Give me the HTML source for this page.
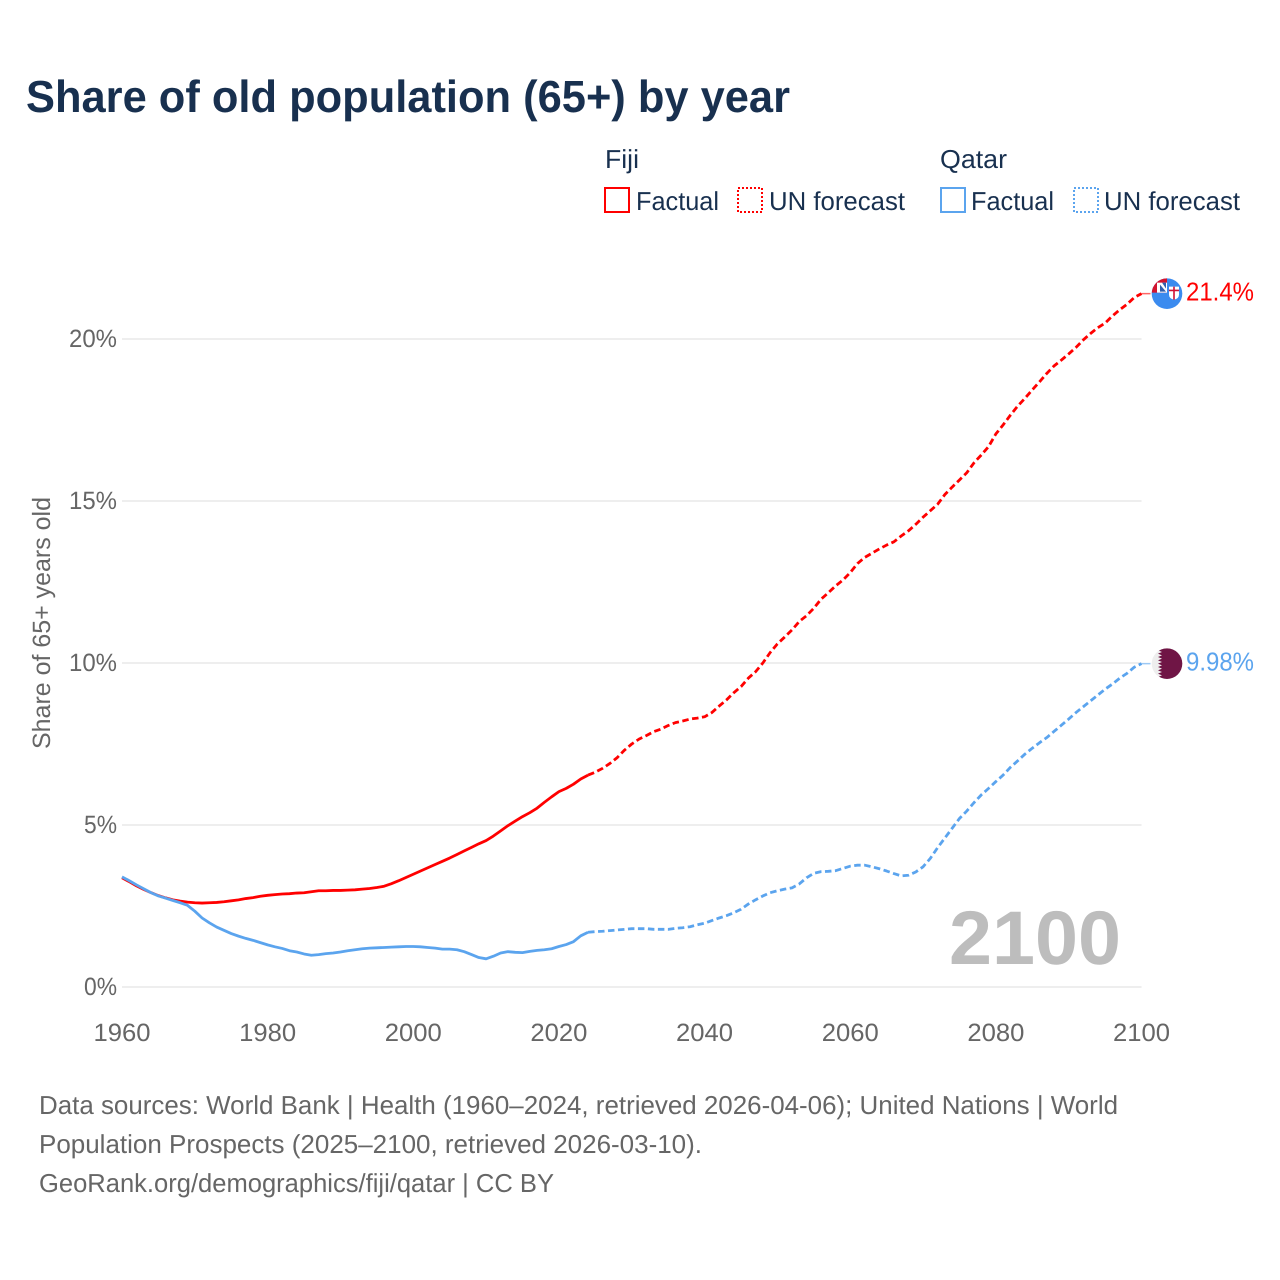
<!DOCTYPE html>
<html lang="en">
<head>
<meta charset="utf-8">
<title>Share of old population (65+) by year</title>
<style>
html,body{margin:0;padding:0;background:#fff;}
svg{display:block;font-family:"Liberation Sans",sans-serif;}
</style>
</head>
<body>
<svg id="chart" width="1280" height="1280" viewBox="0 0 1280 1280" xmlns="http://www.w3.org/2000/svg" text-rendering="geometricPrecision">
  <defs>
    <clipPath id="marker-clip"><circle cx="0" cy="0" r="15.3"></circle></clipPath>
  </defs>
  <rect x="0" y="0" width="1280" height="1280" fill="#ffffff"></rect>
  <text x="26" y="112" font-size="45" font-weight="700" fill="#18304f" textLength="764" lengthAdjust="spacingAndGlyphs">Share of old population (65+) by year</text>

  <g font-size="26" fill="#18304f">
    <text x="605" y="168" textLength="34" lengthAdjust="spacingAndGlyphs">Fiji</text>
    <rect x="605" y="188" width="24" height="24" fill="none" stroke="#ff0000" stroke-width="2"></rect>
    <text x="636" y="210" textLength="83" lengthAdjust="spacingAndGlyphs">Factual</text>
    <rect x="738" y="188" width="24" height="24" fill="none" stroke="#ff0000" stroke-width="2" stroke-dasharray="2 2"></rect>
    <text x="769" y="210" textLength="136" lengthAdjust="spacingAndGlyphs">UN forecast</text>
    <text x="940" y="168" textLength="67" lengthAdjust="spacingAndGlyphs">Qatar</text>
    <rect x="941" y="188" width="24" height="24" fill="none" stroke="#5ba4ee" stroke-width="2"></rect>
    <text x="971" y="210" textLength="83" lengthAdjust="spacingAndGlyphs">Factual</text>
    <rect x="1074" y="188" width="24" height="24" fill="none" stroke="#5ba4ee" stroke-width="2" stroke-dasharray="2 2"></rect>
    <text x="1104" y="210" textLength="136" lengthAdjust="spacingAndGlyphs">UN forecast</text>
  </g>

  <text transform="translate(50,623) rotate(-90)" text-anchor="middle" font-size="25" fill="#666666" textLength="252" lengthAdjust="spacingAndGlyphs">Share of 65+ years old</text>

  <g id="grid"></g>
  <g id="y-ticks"></g>
  <g id="x-ticks"></g>

  <text x="949" y="964" font-size="76" font-weight="700" fill="#bdbdbd" textLength="172" lengthAdjust="spacingAndGlyphs">2100</text>

  <g id="series"></g>
  <g id="markers"></g>

  <g font-size="26" fill="#666666">
    <text x="39" y="1114" textLength="1079" lengthAdjust="spacingAndGlyphs">Data sources: World Bank | Health (1960–2024, retrieved 2026-04-06); United Nations | World</text>
    <text x="39" y="1153" textLength="663" lengthAdjust="spacingAndGlyphs">Population Prospects (2025–2100, retrieved 2026-03-10).</text>
    <text x="39" y="1192" textLength="515" lengthAdjust="spacingAndGlyphs">GeoRank.org/demographics/fiji/qatar | CC BY</text>
  </g>
</svg>
<script>
const yTicks = [0, 5, 10, 15, 20];
const xTicks = [1960, 1980, 2000, 2020, 2040, 2060, 2080, 2100];
const factualYears = [1960,1961,1962,1963,1964,1965,1966,1967,1968,1969,1970,1971,1972,1973,1974,1975,1976,1977,1978,1979,1980,1981,1982,1983,1984,1985,1986,1987,1988,1989,1990,1991,1992,1993,1994,1995,1996,1997,1998,1999,2000,2001,2002,2003,2004,2005,2006,2007,2008,2009,2010,2011,2012,2013,2014,2015,2016,2017,2018,2019,2020,2021,2022,2023,2024];
const forecastYears = [2024,2025,2026,2027,2028,2029,2030,2031,2032,2033,2034,2035,2036,2037,2038,2039,2040,2041,2042,2043,2044,2045,2046,2047,2048,2049,2050,2051,2052,2053,2054,2055,2056,2057,2058,2059,2060,2061,2062,2063,2064,2065,2066,2067,2068,2069,2070,2071,2072,2073,2074,2075,2076,2077,2078,2079,2080,2081,2082,2083,2084,2085,2086,2087,2088,2089,2090,2091,2092,2093,2094,2095,2096,2097,2098,2099,2100];
const fijiFactual = [3.37,3.25,3.12,3.01,2.91,2.82,2.75,2.69,2.65,2.62,2.60,2.59,2.60,2.61,2.63,2.66,2.69,2.73,2.76,2.80,2.83,2.85,2.87,2.88,2.90,2.91,2.94,2.97,2.97,2.98,2.98,2.99,3.00,3.02,3.04,3.07,3.11,3.19,3.28,3.38,3.48,3.58,3.68,3.78,3.88,3.98,4.09,4.20,4.31,4.42,4.52,4.66,4.82,4.98,5.12,5.26,5.38,5.52,5.70,5.87,6.03,6.13,6.26,6.42,6.54];
const fijiForecast = [6.54,6.63,6.75,6.90,7.08,7.31,7.50,7.65,7.76,7.88,7.96,8.07,8.16,8.21,8.27,8.30,8.34,8.47,8.67,8.86,9.08,9.27,9.53,9.73,10.0,10.32,10.59,10.8,11.02,11.28,11.46,11.69,11.97,12.17,12.38,12.56,12.79,13.07,13.26,13.39,13.52,13.64,13.74,13.92,14.08,14.28,14.5,14.7,14.9,15.2,15.43,15.65,15.87,16.18,16.42,16.68,17.07,17.35,17.65,17.93,18.17,18.43,18.68,18.94,19.17,19.35,19.54,19.74,19.97,20.17,20.35,20.49,20.71,20.9,21.07,21.28,21.4];
const qatarFactual = [3.40,3.28,3.15,3.03,2.91,2.81,2.74,2.67,2.60,2.52,2.34,2.13,1.98,1.85,1.75,1.65,1.57,1.50,1.44,1.37,1.30,1.24,1.19,1.12,1.08,1.02,0.98,1.00,1.03,1.05,1.08,1.12,1.15,1.18,1.20,1.21,1.22,1.23,1.24,1.25,1.25,1.24,1.22,1.20,1.17,1.17,1.15,1.09,1.00,0.91,0.87,0.95,1.05,1.09,1.07,1.06,1.10,1.13,1.15,1.18,1.25,1.31,1.40,1.58,1.69];
const qatarForecast = [1.69,1.71,1.72,1.74,1.76,1.78,1.80,1.80,1.80,1.78,1.78,1.78,1.81,1.83,1.86,1.92,1.97,2.05,2.13,2.20,2.29,2.40,2.56,2.69,2.81,2.91,2.97,3.02,3.06,3.18,3.37,3.51,3.56,3.57,3.59,3.66,3.73,3.76,3.76,3.71,3.65,3.58,3.50,3.43,3.45,3.55,3.71,3.97,4.30,4.60,4.90,5.20,5.43,5.69,5.93,6.13,6.34,6.54,6.78,6.98,7.19,7.37,7.54,7.70,7.89,8.08,8.27,8.47,8.65,8.83,9.01,9.19,9.35,9.53,9.68,9.87,9.98];
const endLabels = ["21.4%", "9.98%"];

const NS = "http://www.w3.org/2000/svg";
const RED = "#ff0000";
const BLUE = "#5ba4ee";
const xScale = function (year) { return 122 + (year - 1960) * (1141.5 - 122) / 140; };
const yScale = function (v) { return 987 - v * 32.4; };

function make(tag, parent, attrs) {
  const el = document.createElementNS(NS, tag);
  for (const k in attrs) el.setAttribute(k, attrs[k]);
  parent.appendChild(el);
  return el;
}

const grid = document.getElementById("grid");
const yG = document.getElementById("y-ticks");
const xG = document.getElementById("x-ticks");
const seriesG = document.getElementById("series");
const markersG = document.getElementById("markers");

yTicks.forEach(function (t) {
  const line = make("line", grid, { x1: 122, x2: 1141.5, y1: yScale(t), y2: yScale(t), stroke: "#eeeeee", "stroke-width": 2 });
  
  
  const label = t + "%";
  const txt = make("text", yG, { x: 117, y: yScale(t) + 8, "text-anchor": "end", "font-size": 25, fill: "#666666", textLength: 3 + 15 * label.length, lengthAdjust: "spacingAndGlyphs" });
  
  
  txt.textContent = label;
});

xTicks.forEach(function (t) {
  const txt = make("text", xG, { x: xScale(t), y: 1041, "text-anchor": "middle", "font-size": 25, fill: "#666666", textLength: 57, lengthAdjust: "spacingAndGlyphs" });
  
  
  txt.textContent = String(t);
});

function linePoints(years, values) {
  return values.map(function (v, i) { return xScale(years[i]).toFixed(2) + "," + yScale(v).toFixed(2); }).join(" ");
}

const fijiForecastLine = make("polyline", seriesG, { points: linePoints(forecastYears, fijiForecast), fill: "none", stroke: RED, "stroke-width": 2.8, "stroke-dasharray": "6.5 3.5", "stroke-linejoin": "round" });


const qatarForecastLine = make("polyline", seriesG, { points: linePoints(forecastYears, qatarForecast), fill: "none", stroke: BLUE, "stroke-width": 2.8, "stroke-dasharray": "6.5 3.5", "stroke-linejoin": "round" });


const fijiFactualLine = make("polyline", seriesG, { points: linePoints(factualYears, fijiFactual), fill: "none", stroke: RED, "stroke-width": 2.8, "stroke-linejoin": "round" });


const qatarFactualLine = make("polyline", seriesG, { points: linePoints(factualYears, qatarFactual), fill: "none", stroke: BLUE, "stroke-width": 2.8, "stroke-linejoin": "round" });



const lastX = xScale(forecastYears[forecastYears.length - 1]);
const fijiEndY = yScale(fijiForecast[fijiForecast.length - 1]);
const qatarEndY = yScale(qatarForecast[qatarForecast.length - 1]);

const fijiConnector = make("line", seriesG, { x1: lastX, x2: lastX + 9, y1: fijiEndY, y2: fijiEndY, stroke: RED, "stroke-width": 1.5, opacity: 0.6 });


const qatarConnector = make("line", seriesG, { x1: lastX, x2: lastX + 9, y1: qatarEndY, y2: qatarEndY, stroke: BLUE, "stroke-width": 1.5, opacity: 0.6 });



/* Fiji flag marker */
const fijiFlag = make("g", markersG, { transform: "translate(1167," + fijiEndY + ")" });


make("circle", fijiFlag, { cx: 0, cy: 0, r: 15.3, fill: "#3b8bef" });
const canton = make("g", fijiFlag, { "clip-path": "url(#marker-clip)" });
make("rect", canton, { x: -16, y: -16, width: 16, height: 15, fill: "#d3142f" });
make("rect", canton, { x: -10, y: -11, width: 10, height: 10, fill: "#ffffff" });
make("polygon", canton, { points: "-7,-9 -7,-2 -1,-2", fill: "#2f5fae" });
make("polygon", canton, { points: "-5,-11 -1,-11 -1,-5", fill: "#2f5fae" });
make("path", canton, { d: "M2,-7 h10 v8 q0,4 -5,5 q-5,-1 -5,-5 z", fill: "#ffffff" });
make("rect", canton, { x: 2, y: -4, width: 10, height: 1.6, fill: "#d21034" });
make("rect", canton, { x: 6.2, y: -7, width: 1.6, height: 13, fill: "#d21034" });

/* Qatar flag marker */
const qatarFlag = make("g", markersG, { transform: "translate(1167," + qatarEndY + ")" });


const qatarInner = make("g", qatarFlag, { "clip-path": "url(#marker-clip)" });
make("rect", qatarInner, { x: -16, y: -16, width: 32, height: 32, fill: "#eeeeee" });
make("polygon", qatarInner, { points: "16,-16 -5,-16 -9,-13.4 -5,-11.7 -9,-10 -5,-8.3 -9,-6.7 -5,-5 -9,-3.3 -5,-1.7 -9,0 -5,1.7 -9,3.3 -5,5 -9,6.7 -5,8.3 -9,10 -5,11.7 -9,13.4 -5,16 16,16", fill: "#6f1545" });

const fijiLabel = make("text", markersG, { x: 1186, y: fijiEndY + 7, "font-size": 26, fill: RED, textLength: 68, lengthAdjust: "spacingAndGlyphs" });


fijiLabel.textContent = endLabels[0];
const qatarLabel = make("text", markersG, { x: 1186, y: qatarEndY + 7, "font-size": 26, fill: BLUE, textLength: 68, lengthAdjust: "spacingAndGlyphs" });


qatarLabel.textContent = endLabels[1];
</script>
</body>
</html>
